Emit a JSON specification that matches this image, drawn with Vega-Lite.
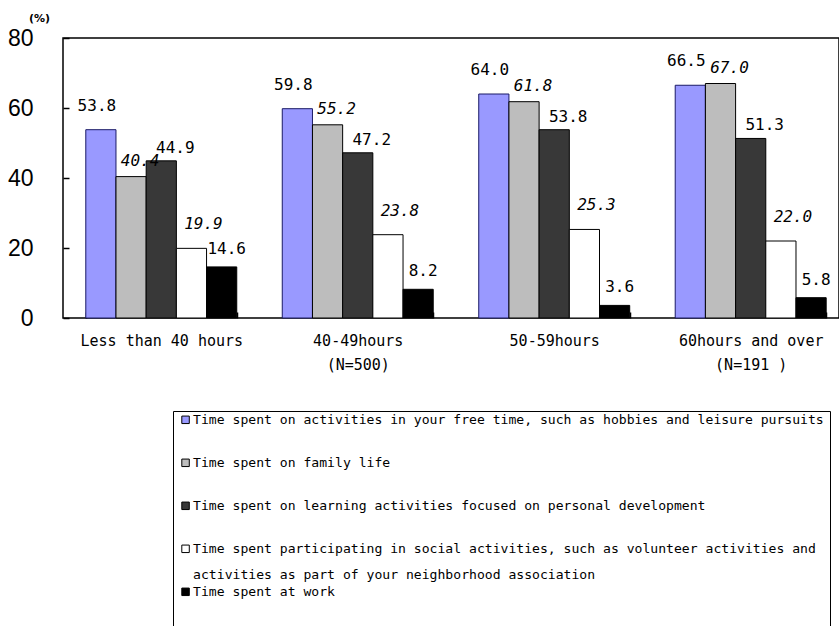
{
  "$schema": "https://vega.github.io/schema/vega-lite/v6.json",
  "autosize": {"type": "none"},
  "padding": {"left": 63, "top": 38, "right": 0, "bottom": 308},
  "width": 776,
  "height": 280,
  "background": "white",
  "data": {
    "values": [
      {"hours": "Less than 40 hours", "item": "Time spent on activities in your free time, such as hobbies and leisure pursuits", "pct": 53.8},
      {"hours": "Less than 40 hours", "item": "Time spent on family life", "pct": 40.4},
      {"hours": "Less than 40 hours", "item": "Time spent on learning activities focused on personal development", "pct": 44.9},
      {"hours": "Less than 40 hours", "item": "Time spent participating in social activities, such as volunteer activities and activities as part of your neighborhood association", "pct": 19.9},
      {"hours": "Less than 40 hours", "item": "Time spent at work", "pct": 14.6},
      {"hours": "40-49hours", "item": "Time spent on activities in your free time, such as hobbies and leisure pursuits", "pct": 59.8},
      {"hours": "40-49hours", "item": "Time spent on family life", "pct": 55.2},
      {"hours": "40-49hours", "item": "Time spent on learning activities focused on personal development", "pct": 47.2},
      {"hours": "40-49hours", "item": "Time spent participating in social activities, such as volunteer activities and activities as part of your neighborhood association", "pct": 23.8},
      {"hours": "40-49hours", "item": "Time spent at work", "pct": 8.2},
      {"hours": "50-59hours", "item": "Time spent on activities in your free time, such as hobbies and leisure pursuits", "pct": 64.0},
      {"hours": "50-59hours", "item": "Time spent on family life", "pct": 61.8},
      {"hours": "50-59hours", "item": "Time spent on learning activities focused on personal development", "pct": 53.8},
      {"hours": "50-59hours", "item": "Time spent participating in social activities, such as volunteer activities and activities as part of your neighborhood association", "pct": 25.3},
      {"hours": "50-59hours", "item": "Time spent at work", "pct": 3.6},
      {"hours": "60hours and over", "item": "Time spent on activities in your free time, such as hobbies and leisure pursuits", "pct": 66.5},
      {"hours": "60hours and over", "item": "Time spent on family life", "pct": 67.0},
      {"hours": "60hours and over", "item": "Time spent on learning activities focused on personal development", "pct": 51.3},
      {"hours": "60hours and over", "item": "Time spent participating in social activities, such as volunteer activities and activities as part of your neighborhood association", "pct": 22.0},
      {"hours": "60hours and over", "item": "Time spent at work", "pct": 5.8}
    ]
  },
  "config": {
    "view": {"stroke": "black", "strokeWidth": 1.5},
    "font": "DejaVu Sans Mono",
    "legend": {"strokeWidth": 1}
  },
  "encoding": {
    "x": {
      "field": "hours",
      "type": "nominal",
      "sort": ["Less than 40 hours", "40-49hours", "50-59hours", "60hours and over"],
      "scale": {"paddingInner": 0.2316, "paddingOuter": 0.0906, "align": 0.64},
      "axis": {
        "title": null,
        "offset": -6,
        "labelAngle": 0,
        "labelFont": "DejaVu Sans Mono",
        "labelFontSize": 15,
        "labelColor": "black",
        "labelPadding": 15,
        "labelBaseline": "top",
        "labelLineHeight": 24,
        "labelLimit": 300,
        "labelExpr": "datum.label == '40-49hours' ? ['40-49hours', '(N=500)'] : datum.label == '60hours and over' ? ['60hours and over', '(N=191 )'] : datum.label",
        "domain": false,
        "ticks": true,
        "tickBand": "extent",
        "tickSize": 6,
        "tickColor": "black",
        "tickWidth": 1.5
      }
    },
    "xOffset": {
      "field": "item",
      "type": "nominal",
      "sort": [
        "Time spent on activities in your free time, such as hobbies and leisure pursuits",
        "Time spent on family life",
        "Time spent on learning activities focused on personal development",
        "Time spent participating in social activities, such as volunteer activities and activities as part of your neighborhood association",
        "Time spent at work"
      ],
      "scale": {"paddingInner": 0, "paddingOuter": 0}
    },
    "y": {
      "field": "pct",
      "type": "quantitative",
      "scale": {"domain": [0, 80], "nice": false},
      "axis": {
        "title": "(%)",
        "titleAngle": 0,
        "titleX": -30,
        "titleY": -20,
        "titleFont": "DejaVu Sans",
        "titleFontSize": 11,
        "titleFontWeight": "bold",
        "titleAlign": "center",
        "titleBaseline": "middle",
        "offset": -6,
        "values": [0, 20, 40, 60, 80],
        "labelFont": "Liberation Sans Narrow, Liberation Sans, sans-serif",
        "labelFontSize": 23,
        "labelColor": "black",
        "labelPadding": 30,
        "ticks": true,
        "tickSize": 6,
        "tickColor": "black",
        "tickWidth": 1.5,
        "domain": false,
        "grid": false
      }
    },
    "y2": {"datum": 0}
  },
  "layer": [
    {
      "mark": {"type": "bar", "strokeWidth": 1},
      "encoding": {
        "stroke": {
          "condition": {"test": "indexof(datum.item, 'free time') > 0", "value": "#1a1a66"},
          "value": "black"
        },
        "fill": {
          "field": "item",
          "type": "nominal",
          "scale": {
            "domain": [
              "Time spent on activities in your free time, such as hobbies and leisure pursuits",
              "Time spent on family life",
              "Time spent on learning activities focused on personal development",
              "Time spent participating in social activities, such as volunteer activities and activities as part of your neighborhood association",
              "Time spent at work"
            ],
            "range": ["#9999ff", "#bdbdbd", "#383838", "#ffffff", "#000000"]
          },
          "legend": {
            "title": null,
            "orient": "none",
            "legendX": 110,
            "legendY": 373,
            "direction": "vertical",
            "padding": 6,
            "strokeColor": "black",
            "fillColor": "white",
            "labelFont": "DejaVu Sans Mono",
            "labelFontSize": 13.1,
            "labelColor": "black",
            "labelLimit": 800,
            "labelBaseline": "alphabetic",
            "labelOffset": 1,
            "labelExpr": "indexof(datum.label, 'participating') > 0 ? ['Time spent participating in social activities, such as volunteer activities and', 'activities as part of your neighborhood association'] : datum.label == 'Time spent at work' ? [datum.label, '', ''] : [datum.label, '']",
            "symbolType": "M-1,-2H1V0H-1Z",
            "symbolSize": 56,
            "symbolStrokeColor": "black",
            "symbolStrokeWidth": 1,
            "symbolOffset": 0,
            "rowPadding": 3,
            "encode": {"labels": {"update": {"lineHeight": {"value": 26}}}}
          }
        }
      }
    },
    {
      "transform": [{"filter": {"field": "item", "equal": "Time spent on activities in your free time, such as hobbies and leisure pursuits"}}],
      "mark": {"type": "text", "font": "DejaVu Sans Mono", "fontSize": 16, "baseline": "middle", "dx": -4, "dy": -24, "color": "black"},
      "encoding": {"text": {"field": "pct", "type": "quantitative", "format": ".1f"}}
    },
    {
      "transform": [{"filter": {"field": "item", "equal": "Time spent on family life"}}],
      "mark": {"type": "text", "font": "DejaVu Sans Mono", "fontSize": 16, "fontStyle": "italic", "baseline": "middle", "dx": 9, "dy": -16, "color": "black"},
      "encoding": {"text": {"field": "pct", "type": "quantitative", "format": ".1f"}}
    },
    {
      "transform": [{"filter": {"field": "item", "equal": "Time spent on learning activities focused on personal development"}}],
      "mark": {"type": "text", "font": "DejaVu Sans Mono", "fontSize": 16, "baseline": "middle", "dx": 14, "dy": -13, "color": "black"},
      "encoding": {"text": {"field": "pct", "type": "quantitative", "format": ".1f"}}
    },
    {
      "transform": [{"filter": {"field": "item", "equal": "Time spent participating in social activities, such as volunteer activities and activities as part of your neighborhood association"}}],
      "mark": {"type": "text", "font": "DejaVu Sans Mono", "fontSize": 16, "fontStyle": "italic", "baseline": "middle", "dx": 12, "dy": -24, "color": "black"},
      "encoding": {"text": {"field": "pct", "type": "quantitative", "format": ".1f"}}
    },
    {
      "transform": [{"filter": {"field": "item", "equal": "Time spent at work"}}],
      "mark": {"type": "text", "font": "DejaVu Sans Mono", "fontSize": 16, "baseline": "middle", "dx": 5, "dy": -18, "color": "black"},
      "encoding": {"text": {"field": "pct", "type": "quantitative", "format": ".1f"}}
    }
  ]
}
